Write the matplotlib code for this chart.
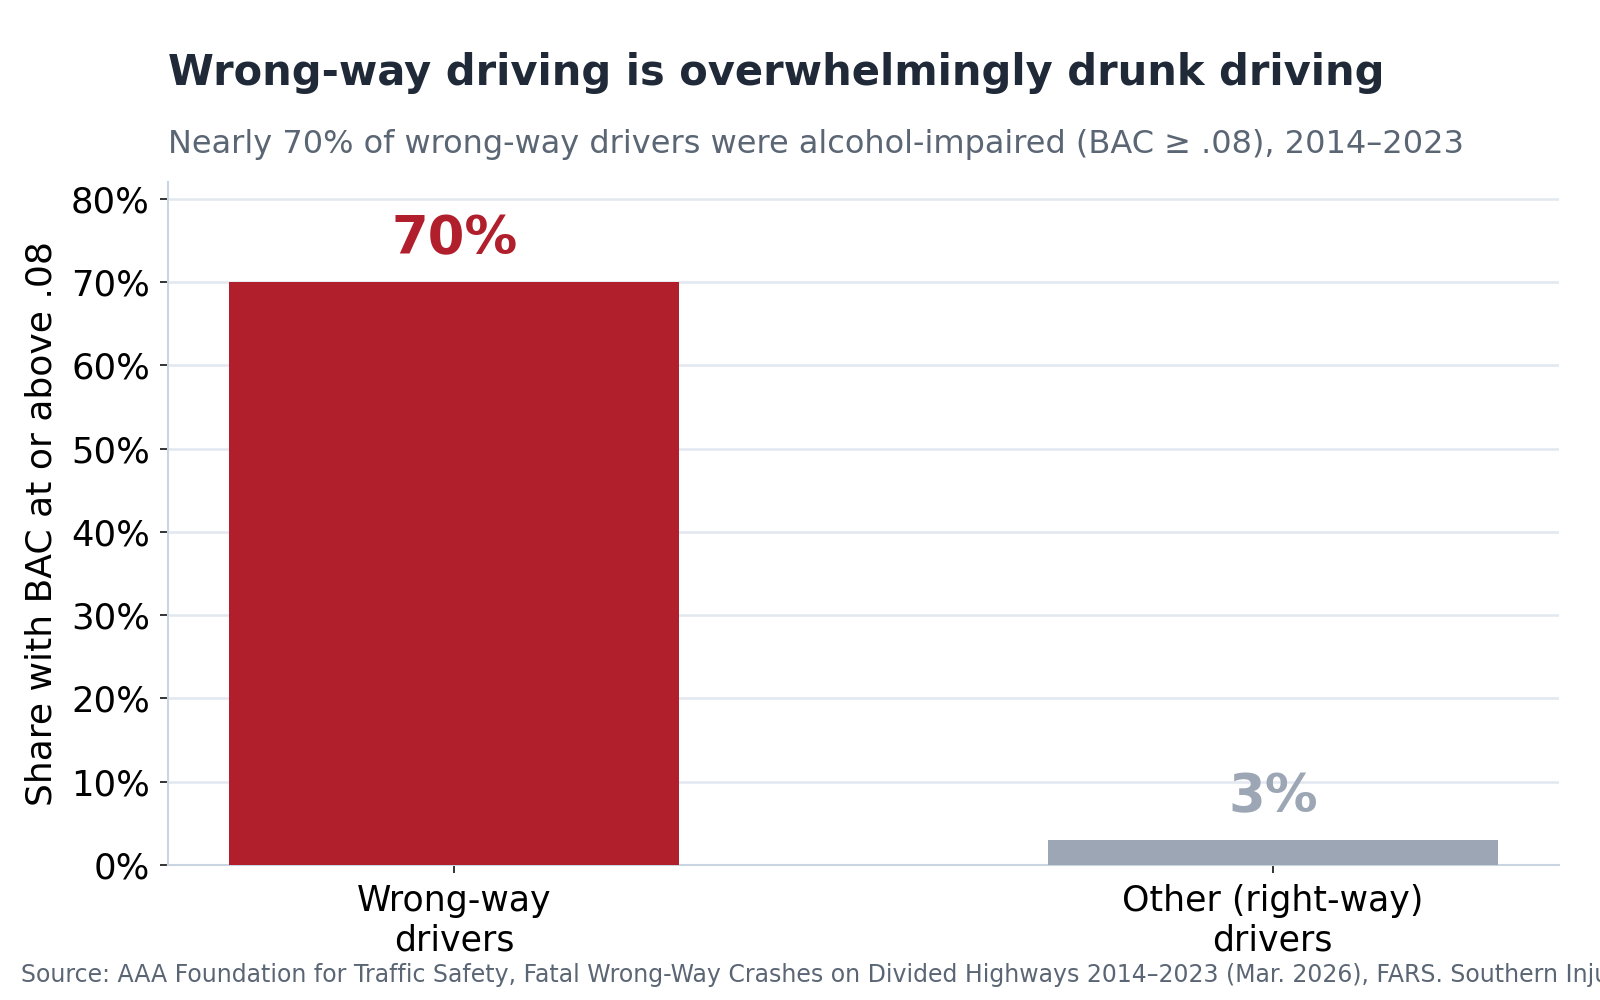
import matplotlib
matplotlib.use("Agg")
import matplotlib.pyplot as plt
from matplotlib.ticker import FuncFormatter

categories = ["Wrong-way\ndrivers", "Other (right-way)\ndrivers"]
values = [70, 3]
value_labels = ["70%", "3%"]
bar_colors = ["#b11f2c", "#9ca6b4"]
yticks = [0, 10, 20, 30, 40, 50, 60, 70, 80]

title = "Wrong-way driving is overwhelmingly drunk driving"
subtitle = "Nearly 70% of wrong-way drivers were alcohol-impaired (BAC \u2265 .08), 2014\u20132023"
ylabel = "Share with BAC at or above .08"
source = ("Source: AAA Foundation for Traffic Safety, Fatal Wrong-Way Crashes on Divided Highways 2014\u20132023 "
          "(Mar. 2026), FARS. Southern Injury Prevention Research Center.")

plt.rcParams['font.family'] = ['DejaVu Sans']
fig = plt.figure(figsize=(16, 10), dpi=100)
ax = fig.add_axes([0.105, 0.135, 0.8695, 0.683])

x = list(range(len(categories)))
ax.bar(x, values, width=0.55, color=bar_colors, zorder=3)
for xi, v, lab, c in zip(x, values, value_labels, bar_colors):
    ax.text(xi, v + 2.0, lab, ha="center", va="bottom", fontsize=38,
            fontweight="bold", color=c, zorder=4)

ax.set_xlim(-0.35, 1.35)
ax.set_ylim(0, 82)
ax.set_yticks(yticks)
ax.yaxis.set_major_formatter(FuncFormatter(lambda v, p: f"{v:.0f}%"))
ax.set_xticks(x)
ax.set_xticklabels(categories, fontsize=25)
ax.tick_params(axis="y", labelsize=25.5, length=6, width=1.2, color="#111111", pad=7)
ax.tick_params(axis="x", length=6, width=1.2, color="#111111", pad=8)
ax.set_ylabel(ylabel, fontsize=26, labelpad=9)
ax.grid(axis="y", color="#e2e8f0", linewidth=1.8, zorder=0)
ax.set_axisbelow(True)
for s in ["top", "right"]:
    ax.spines[s].set_visible(False)
for s in ["left", "bottom"]:
    ax.spines[s].set_color("#cbd5e1")
    ax.spines[s].set_linewidth(1.5)

fig.text(0.105, 0.915, title, fontsize=30, fontweight="bold", color="#1f2937",
         ha="left", va="baseline")
fig.text(0.105, 0.847, subtitle, fontsize=23, color="#5b6675",
         ha="left", va="baseline")
fig.text(0.013, 0.018, source, fontsize=17, color="#5b6675",
         ha="left", va="baseline")

fig.savefig("out.png", dpi=100)
